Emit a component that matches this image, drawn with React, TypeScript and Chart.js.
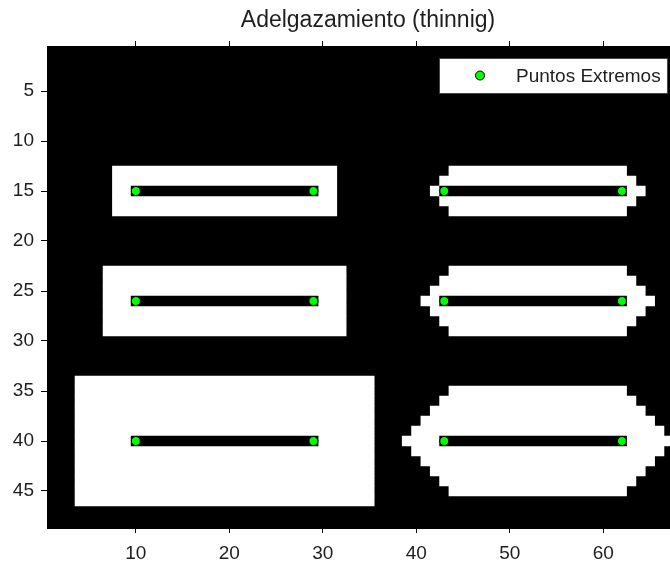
import React, { useEffect, useRef } from "react";
import { Chart, registerables } from "chart.js";

Chart.register(...registerables);

const TITLE = "Adelgazamiento (thinnig)";
const LEGEND_LABEL = "Puntos Extremos";

// axis ticks
const xTicks = [10, 20, 30, 40, 50, 60];
const yTicks = [5, 10, 15, 20, 25, 30, 35, 40, 45];

// image extent (pixel centres are integers)
const xRange = [0.5, 69.5];
const yRange = [0.5, 48.7];

// white rectangles: [firstRow, lastRow, firstCol, lastCol]
const rectShapes = [
  [13, 17, 8, 31],
  [23, 29, 7, 32],
  [34, 46, 4, 35],
];

// rounded (octagonal) shapes, one run per row: [row, firstCol, lastCol]
const octTop = [
  [13, 44, 62], [14, 43, 63], [15, 42, 64], [16, 43, 63], [17, 44, 62],
];
const octMiddle = [
  [23, 44, 62], [24, 43, 63], [25, 42, 64], [26, 41, 65],
  [27, 42, 64], [28, 43, 63], [29, 44, 62],
];
const octBottom = [
  [35, 44, 62], [36, 43, 63], [37, 42, 64], [38, 41, 65], [39, 40, 66],
  [40, 39, 67], [41, 40, 66], [42, 41, 65], [43, 42, 64], [44, 43, 63], [45, 44, 62],
];

// thinned skeleton lines: [row, firstCol, lastCol]
const skeletonLines = [
  [15, 10, 29], [26, 10, 29], [40, 10, 29],
  [15, 43, 62], [26, 43, 62], [40, 43, 62],
];

// end points of the skeletons
const endX = [10, 29, 43, 62, 10, 29, 43, 62, 10, 29, 43, 62];
const endY = [15, 15, 15, 15, 26, 26, 26, 26, 40, 40, 40, 40];

const FONT = '"Liberation Sans", Arial, Helvetica, sans-serif';
const TEXT_COLOR = "#1e1e1e";

function runsFromRects(rects: number[][]) {
  const out: number[][] = [];
  rects.forEach(([r0, r1, c0, c1]) => {
    for (let r = r0; r <= r1; r++) out.push([r, c0, c1]);
  });
  return out;
}

function toBars(runs: number[][]) {
  return runs.map(([r, c0, c1]) => ({ y: r, x: [c0 - 0.5, c1 + 0.5] }));
}

const bgPlugin = {
  id: "imageBackground",
  beforeDraw(chart: any) {
    const { ctx, chartArea } = chart;
    const { left, top, right, bottom } = chartArea;
    ctx.save();
    ctx.fillStyle = "#000";
    ctx.fillRect(left, top, right - left, bottom - top);
    ctx.restore();
  },
};

const legendPlugin = {
  id: "matlabLegend",
  afterDraw(chart: any) {
    const { ctx, chartArea } = chart;
    const { right, top } = chartArea;
    const x0 = right - 253;
    const x1 = right - 25;
    const y0 = top + 12;
    const y1 = top + 47;
    ctx.save();
    ctx.fillStyle = "#fff";
    ctx.fillRect(x0, y0, x1 - x0, y1 - y0);
    ctx.strokeStyle = "#444";
    ctx.lineWidth = 1;
    ctx.strokeRect(Math.round(x0) + 0.5, Math.round(y0) + 0.5, Math.round(x1 - x0), Math.round(y1 - y0));
    const cy = (y0 + y1) / 2;
    ctx.beginPath();
    ctx.arc(x0 + 41, cy, 4.5, 0, Math.PI * 2);
    ctx.fillStyle = "#00ff00";
    ctx.fill();
    ctx.strokeStyle = "#000";
    ctx.stroke();
    ctx.fillStyle = TEXT_COLOR;
    ctx.font = `19px ${FONT}`;
    ctx.textBaseline = "middle";
    ctx.textAlign = "left";
    ctx.fillText(LEGEND_LABEL, x0 + 77, cy + 1);
    ctx.restore();
  },
};

export default function App() {
  const canvasRef = useRef<HTMLCanvasElement | null>(null);

  useEffect(() => {
    const canvas = canvasRef.current;
    if (!canvas) return;

    const whiteRuns = [...runsFromRects(rectShapes), ...octTop, ...octMiddle, ...octBottom];

    const tickFont = { family: FONT, size: 19 };
    const gridStyle = (len: number) => ({
      drawOnChartArea: false,
      drawTicks: true,
      tickLength: len,
      color: "#000",
      lineWidth: 1,
      offset: false,
    });
    const border = { display: true, color: "#000", width: 1 };

    const chart = new Chart(canvas, {
      type: "bar",
      data: {
        datasets: [
          {
            type: "scatter",
            label: LEGEND_LABEL,
            data: endX.map((x, i) => ({ x, y: endY[i] })),
            indexAxis: "x",
            pointRadius: 4.5,
            pointBackgroundColor: "#00ff00",
            pointBorderColor: "#000",
            pointBorderWidth: 1,
            showLine: false,
            order: 0,
          } as any,
          {
            type: "bar",
            label: "esqueleto",
            data: toBars(skeletonLines) as any,
            backgroundColor: "#000",
            borderWidth: 0,
            grouped: false,
            barPercentage: 1,
            categoryPercentage: 1,
            order: 1,
          } as any,
          {
            type: "bar",
            label: "imagen",
            data: toBars(whiteRuns) as any,
            backgroundColor: "#fff",
            borderWidth: 0,
            grouped: false,
            barPercentage: 1,
            categoryPercentage: 1,
            order: 2,
          } as any,
        ],
      },
      options: {
        responsive: false,
        animation: false,
        events: [],
        indexAxis: "y",
        layout: { padding: 0 },
        plugins: {
          legend: { display: false },
          tooltip: { enabled: false },
          title: {
            display: true,
            text: TITLE,
            color: TEXT_COLOR,
            font: { family: FONT, size: 23, weight: "normal" },
            padding: { top: 7, bottom: 6.4 },
          },
        },
        scales: {
          x: {
            type: "linear",
            position: "bottom",
            min: xRange[0],
            max: xRange[1],
            offset: false,
            afterBuildTicks: (a: any) => { a.ticks = xTicks.map((v) => ({ value: v })); },
            afterFit: (a: any) => { a.height = 35; },
            grid: gridStyle(5),
            border,
            ticks: { font: tickFont, color: TEXT_COLOR, padding: 9, maxRotation: 0, autoSkip: false },
          },
          x2: {
            type: "linear",
            position: "top",
            min: xRange[0],
            max: xRange[1],
            offset: false,
            afterBuildTicks: (a: any) => { a.ticks = xTicks.map((v) => ({ value: v })); },
            afterFit: (a: any) => { a.height = 5; },
            grid: gridStyle(5),
            border,
            ticks: { display: false },
          },
          y: {
            type: "linear",
            position: "left",
            reverse: true,
            min: yRange[0],
            max: yRange[1],
            offset: false,
            afterBuildTicks: (a: any) => { a.ticks = yTicks.map((v) => ({ value: v })); },
            afterFit: (a: any) => { a.width = 47; },
            grid: gridStyle(6),
            border,
            ticks: { font: tickFont, color: TEXT_COLOR, padding: 7, autoSkip: false },
          },
          y2: {
            type: "linear",
            position: "right",
            reverse: true,
            min: yRange[0],
            max: yRange[1],
            offset: false,
            afterBuildTicks: (a: any) => { a.ticks = yTicks.map((v) => ({ value: v })); },
            afterFit: (a: any) => { a.width = 44; },
            grid: gridStyle(6),
            border,
            ticks: { display: false },
          },
        } as any,
      },
      plugins: [bgPlugin, legendPlugin],
    } as any);

    return () => chart.destroy();
  }, []);

  return (
    <div
      style={{
        position: "absolute",
        left: 0,
        top: 0,
        width: 670,
        height: 563,
        overflow: "hidden",
        background: "#fff",
      }}
    >
      <canvas ref={canvasRef} width={736} height={563} style={{ display: "block" }} />
    </div>
  );
}
